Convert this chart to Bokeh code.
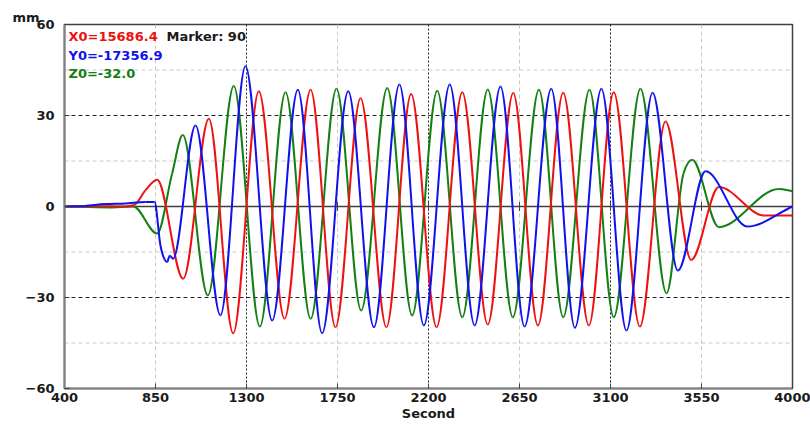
import numpy as np
from bokeh.plotting import figure
from bokeh.models import Span, Label, FixedTicker, Range1d, ColumnDataSource, Title
from bokeh.embed import file_html
from bokeh.resources import INLINE

# ---- data ----
X_TICKS = [400, 850, 1300, 1750, 2200, 2650, 3100, 3550, 4000]
Y_TICKS = [-60, -30, 0, 30, 60]
Y_MINOR = [-45, -15, 15, 45]

x_time = [400, 560, 700, 745, 800, 858, 987, 1114, 1234, 1361, 1488, 1617, 1740, 1864, 1992,
          2114, 2240, 2367, 2493, 2619, 2741, 2866, 2993, 3116, 3245, 3372, 3499, 3636, 3860, 4000]
x_vals = [0, 0.1, 0, 0.5, 5.3, 8.8, -23.8, 28.9, -41.8, 38.0, -37.0, 38.5, -39.8, 35.7, -39.8,
          37.1, -39.8, 37.7, -38.9, 37.4, -39.2, 37.5, -39.2, 37.7, -39.6, 28.0, -17.6, 6.4, -3.0, -3.0]

y_time = [400, 500, 600, 700, 800, 845, 875, 895, 908, 920, 937, 1048, 1171, 1295, 1427, 1554,
          1674, 1803, 1930, 2056, 2177, 2305, 2428, 2556, 2675, 2807, 2924, 3055, 3179, 3308,
          3433, 3570, 3776, 4000]
y_vals = [0, 0.2, 0.8, 1.0, 1.5, 1.5, -13.0, -17.5, -18.3, -16.2, -17.2, 26.7, -35.9, 46.2, -37.6, 38.5,
          -41.8, 38.0, -39.8, 40.2, -39.2, 40.2, -39.2, 39.6, -39.6, 38.8, -40.0, 38.8, -40.9, 37.5,
          -21.1, 11.6, -6.6, 0.0]

z_time = [400, 620, 740, 858, 932, 985, 1109, 1237, 1366, 1493, 1617, 1745, 1867, 1996, 2119,
          2243, 2367, 2493, 2617, 2746, 2866, 2996, 3116, 3248, 3377, 3461, 3504, 3636, 3932, 4000]
z_vals = [0, -0.3, 0, -8.9, 10.8, 23.6, -29.3, 39.7, -39.6, 37.7, -37.0, 38.8, -34.3, 39.1, -35.9,
          38.2, -36.5, 38.6, -36.5, 38.5, -36.5, 38.5, -36.5, 38.8, -28.6, 10.9, 15.4, -6.8, 5.8, 5.0]

X_TEXT = "X0=15686.4"
MARKER_TEXT = "Marker: 90"
Y_TEXT = "Y0=-17356.9"
Z_TEXT = "Z0=-32.0"
UNIT_TEXT = "mm"


def monotone_bezier(xs, ys):
    """Smooth (monotone-X style) rendering of the read points as cubic Bezier segments."""
    xs = np.asarray(xs, float)
    ys = np.asarray(ys, float)
    n = len(xs)
    h = np.diff(xs)
    s = np.diff(ys) / h
    m = np.zeros(n)
    for i in range(1, n - 1):
        s0, s1 = s[i - 1], s[i]
        if s0 * s1 <= 0:
            m[i] = 0.0
        else:
            pp = (s0 * h[i] + s1 * h[i - 1]) / (h[i - 1] + h[i])
            m[i] = 2 * np.sign(s0) * min(abs(s0), abs(s1), 0.5 * abs(pp))
    m[0] = s[0]
    m[-1] = s[-1]
    return ColumnDataSource(dict(
        x0=xs[:-1], y0=ys[:-1], x1=xs[1:], y1=ys[1:],
        cx0=xs[:-1] + h / 3, cy0=ys[:-1] + m[:-1] * h / 3,
        cx1=xs[1:] - h / 3, cy1=ys[1:] - m[1:] * h / 3,
    ))


FONT = "DejaVu Sans"

p = figure(width=810, height=424, output_backend="svg", toolbar_location=None,
           x_range=Range1d(400, 4000), y_range=Range1d(-60, 60),
           min_border_left=64, min_border_right=18, min_border_top=24, min_border_bottom=36)
p.background_fill_color = "white"
p.border_fill_color = "white"
p.outline_line_color = "#404040"
p.outline_line_width = 1.5
p.xgrid.visible = False
p.ygrid.visible = False

# unit label "mm" above the y axis
p.title = Title(text=UNIT_TEXT, align="left", offset=-52, standoff=0,
                text_font=FONT, text_font_style="bold", text_font_size="13px",
                text_color="#1a1a1a")

for ax in (p.xaxis[0], p.yaxis[0]):
    ax.major_label_text_font = FONT
    ax.major_label_text_font_style = "bold"
    ax.major_label_text_font_size = "13px"
    ax.major_label_text_color = "#1a1a1a"
    ax.axis_line_color = "#808080"
    ax.axis_line_width = 2
    ax.major_tick_line_color = "#404040"
    ax.major_tick_in = 5
    ax.major_tick_out = 0
    ax.minor_tick_line_color = None

p.xaxis.ticker = FixedTicker(ticks=X_TICKS)
p.yaxis.ticker = FixedTicker(ticks=Y_TICKS)
p.xaxis.major_label_standoff = 4
p.yaxis.major_label_standoff = 10
p.xaxis.axis_label = "Second"
p.xaxis.axis_label_text_font = FONT
p.xaxis.axis_label_text_font_style = "bold"
p.xaxis.axis_label_text_font_size = "13px"
p.xaxis.axis_label_text_color = "#1a1a1a"
p.xaxis.axis_label_standoff = 1

# grid lines
for i, t in enumerate(X_TICKS[1:-1]):
    if i % 2 == 0:
        p.add_layout(Span(location=t, dimension="height", line_color="#c8c8c8",
                          line_dash="4 3", line_width=1, level="underlay"))
    else:
        p.add_layout(Span(location=t, dimension="height", line_color="#222222",
                          line_dash="2 2", line_width=1, level="underlay"))
for t in Y_MINOR:
    p.add_layout(Span(location=t, dimension="width", line_color="#c8c8c8",
                      line_dash="4 3", line_width=1, level="underlay"))
for t in Y_TICKS[1:-1]:
    if t == 0:
        p.add_layout(Span(location=t, dimension="width", line_color="#404040",
                          line_width=1.5, level="underlay"))
    else:
        p.add_layout(Span(location=t, dimension="width", line_color="#222222",
                          line_dash="4 3", line_width=1, level="underlay"))

# small tick marks on the zero line
p.scatter(x=X_TICKS[1:-1], y=[0] * (len(X_TICKS) - 2), marker="dash", angle=np.pi / 2,
          size=9, line_color="#404040", line_width=1)

# series
p.bezier(source=monotone_bezier(z_time, z_vals), x0="x0", y0="y0", x1="x1", y1="y1",
         cx0="cx0", cy0="cy0", cx1="cx1", cy1="cy1", line_color="#128012", line_width=2)
p.bezier(source=monotone_bezier(x_time, x_vals), x0="x0", y0="y0", x1="x1", y1="y1",
         cx0="cx0", cy0="cy0", cx1="cx1", cy1="cy1", line_color="#ee1111", line_width=2)
p.bezier(source=monotone_bezier(y_time, y_vals), x0="x0", y0="y0", x1="x1", y1="y1",
         cx0="cx0", cy0="cy0", cx1="cx1", cy1="cy1", line_color="#1111ee", line_width=2)

# texts
def add_text(txt, dx, dy, color):
    p.add_layout(Label(x=400, y=60, x_units="data", y_units="data", x_offset=dx, y_offset=dy,
                       text=txt, text_font=FONT, text_font_style="bold", text_font_size="13px",
                       text_color=color, text_baseline="middle", text_align="left"))

add_text(X_TEXT, 4, -12, "#ee1111")
add_text(MARKER_TEXT, 102, -12, "#1a1a1a")
add_text(Y_TEXT, 4, -31, "#1111ee")
add_text(Z_TEXT, 4, -49, "#128012")

open("out.html", "w").write(file_html(p, INLINE))
